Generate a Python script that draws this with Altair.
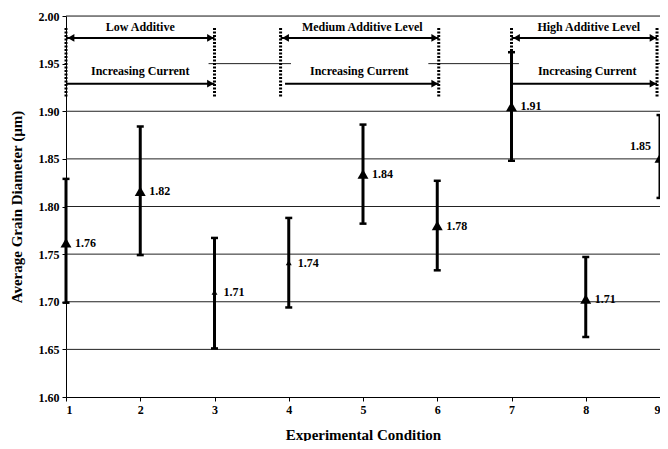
import altair as alt
import pandas as pd

# ---------------- data ----------------
conditions = [1, 2, 3, 4, 5, 6, 7, 8, 9]
means = [1.762, 1.816, 1.710, 1.741, 1.834, 1.780, 1.905, 1.703, 1.851]
err_low = [1.699, 1.749, 1.651, 1.694, 1.782, 1.733, 1.848, 1.663, 1.809]
err_high = [1.829, 1.884, 1.767, 1.788, 1.886, 1.827, 1.962, 1.747, 1.896]
value_labels = ["1.76", "1.82", "1.71", "1.74", "1.84", "1.78", "1.91", "1.71", "1.85"]
marker_kind = ["big", "big", "small", "small", "big", "big", "big", "big", "big"]

y_ticks = [1.60, 1.65, 1.70, 1.75, 1.80, 1.85, 1.90, 1.95, 2.00]
grid_levels = [1.65, 1.70, 1.75, 1.80, 1.85, 1.90, 2.00]
# 1.95 gridline visible only between the annotation boxes
grid195_start = [2.92, 5.88, 8.95]
grid195_end = [4.03, 7.10, 9.0]

# dotted separators of the additive-level groups
sep_x = [1.0, 3.0, 3.89, 6.02, 7.0, 8.96]
sep_y_low = 1.9154
sep_y_high = 1.9875

# arrows: start, end, level, head on left
arrow_start = [1.0, 1.0, 3.89, 3.95, 7.0, 7.0]
arrow_end = [3.0, 3.0, 6.02, 6.02, 8.96, 8.96]
arrow_y = [1.977, 1.929, 1.977, 1.929, 1.977, 1.929]
arrow_both = [True, False, True, False, True, False]

anno_text = ["Low Additive", "Increasing Current", "Medium Additive Level",
             "Increasing Current", "High Additive Level", "Increasing Current"]
anno_x = [2.0, 2.0, 4.99, 4.95, 8.04, 8.02]
anno_y = [1.9885, 1.9426, 1.9885, 1.9426, 1.9885, 1.9426]

# ---------------- tables ----------------
pts = pd.DataFrame({"cond": conditions, "mean": means, "lo": err_low, "hi": err_high,
                    "label": value_labels, "kind": marker_kind})
grid_df = pd.DataFrame({"y": grid_levels})
g195 = pd.DataFrame({"x": grid195_start, "x2": grid195_end, "y": [1.95] * 3})
sep_df = pd.DataFrame({"x": sep_x, "y": [sep_y_low] * len(sep_x), "y2": [sep_y_high] * len(sep_x)})
arr_df = pd.DataFrame({"x": arrow_start, "x2": arrow_end, "y": arrow_y, "both": arrow_both})
right_heads = pd.DataFrame({"x": arrow_end, "y": arrow_y})
left_heads = arr_df[arr_df["both"]][["x", "y"]]
anno_df = pd.DataFrame({"text": anno_text, "x": anno_x, "y": anno_y})

W, H = 594, 381
FONT = "Liberation Serif"

xs = alt.Scale(domain=[1, 9], nice=False, zero=False)
ys = alt.Scale(domain=[1.6, 2.0], nice=False, zero=False)

X = alt.X("cond:Q", scale=xs,
          axis=alt.Axis(values=conditions, format="d", title="Experimental Condition",
                        grid=False, tickSize=4, tickColor="black", domainColor="black",
                        labelFont=FONT, labelFontWeight="bold", labelFontSize=12,
                        labelColor="black", labelPadding=3,
                        titleFont=FONT, titleFontWeight="bold", titleFontSize=15,
                        titleColor="black", titlePadding=12))
Y = alt.Y("mean:Q", scale=ys,
          axis=alt.Axis(values=y_ticks, format=".2f", title="Average Grain Diameter (µm)",
                        grid=False, tickSize=4, tickColor="black", domainColor="black",
                        labelFont=FONT, labelFontWeight="bold", labelFontSize=12,
                        labelColor="black", labelPadding=3,
                        titleFont=FONT, titleFontWeight="bold", titleFontSize=15,
                        titleColor="black", titlePadding=14))

base = alt.Chart(pts).encode(x=X, y=Y)

grid = alt.Chart(grid_df).mark_rule(color="#222", strokeWidth=1).encode(
    y=alt.Y("y:Q", scale=ys), x=alt.value(0), x2=alt.value(W))
grid2 = alt.Chart(g195).mark_rule(color="#222", strokeWidth=1).encode(
    x=alt.X("x:Q", scale=xs), x2="x2:Q", y=alt.Y("y:Q", scale=ys))

seps = alt.Chart(sep_df).mark_rule(color="black", strokeWidth=3, strokeDash=[2, 1.5]).encode(
    x=alt.X("x:Q", scale=xs), y=alt.Y("y:Q", scale=ys), y2="y2:Q")

arrows = alt.Chart(arr_df).mark_rule(color="black", strokeWidth=2).encode(
    x=alt.X("x:Q", scale=xs), x2="x2:Q", y=alt.Y("y:Q", scale=ys))
rheads = alt.Chart(right_heads).mark_point(shape="triangle-right", filled=True, color="black",
                                           size=60, opacity=1, xOffset=-4).encode(
    x=alt.X("x:Q", scale=xs), y=alt.Y("y:Q", scale=ys))
lheads = alt.Chart(left_heads).mark_point(shape="triangle-left", filled=True, color="black",
                                          size=60, opacity=1, xOffset=5).encode(
    x=alt.X("x:Q", scale=xs), y=alt.Y("y:Q", scale=ys))

anno = alt.Chart(anno_df).mark_text(font=FONT, fontWeight="bold", fontSize=12, color="black",
                                    baseline="middle", align="center").encode(
    x=alt.X("x:Q", scale=xs), y=alt.Y("y:Q", scale=ys), text="text:N")

ebars = base.mark_rule(color="black", strokeWidth=3).encode(y=alt.Y("lo:Q", scale=ys), y2="hi:Q")
cap_lo = base.mark_tick(color="black", size=7, thickness=2.5, orient="horizontal", opacity=1).encode(
    y=alt.Y("lo:Q", scale=ys))
cap_hi = base.mark_tick(color="black", size=7, thickness=2.5, orient="horizontal", opacity=1).encode(
    y=alt.Y("hi:Q", scale=ys))

tri_big = base.transform_filter("datum.kind == 'big'").mark_point(
    shape="triangle-up", filled=True, color="black", size=120, opacity=1)
tri_small = base.transform_filter("datum.kind == 'small'").mark_point(
    shape="triangle-up", filled=True, color="black", size=35, opacity=1)

lbl = base.transform_filter("datum.cond < 9").mark_text(
    font=FONT, fontWeight="bold", fontSize=12, color="black", align="left", baseline="middle",
    dx=9).encode(text="label:N")
lbl9 = base.transform_filter("datum.cond == 9").mark_text(
    font=FONT, fontWeight="bold", fontSize=12, color="black", align="right", baseline="middle",
    dx=-9, dy=-12).encode(text="label:N")

chart = alt.layer(grid, grid2, seps, arrows, rheads, lheads, anno,
                  ebars, cap_lo, cap_hi, tri_big, tri_small, lbl, lbl9).properties(
    width=W, height=H,
    autosize=alt.AutoSizeParams(type="none"),
    padding={"left": 58, "top": 8, "right": 0, "bottom": 44},
).configure_view(stroke=None).configure(background="white")

chart.save("out.html", embed_options={"renderer": "svg", "actions": False})
